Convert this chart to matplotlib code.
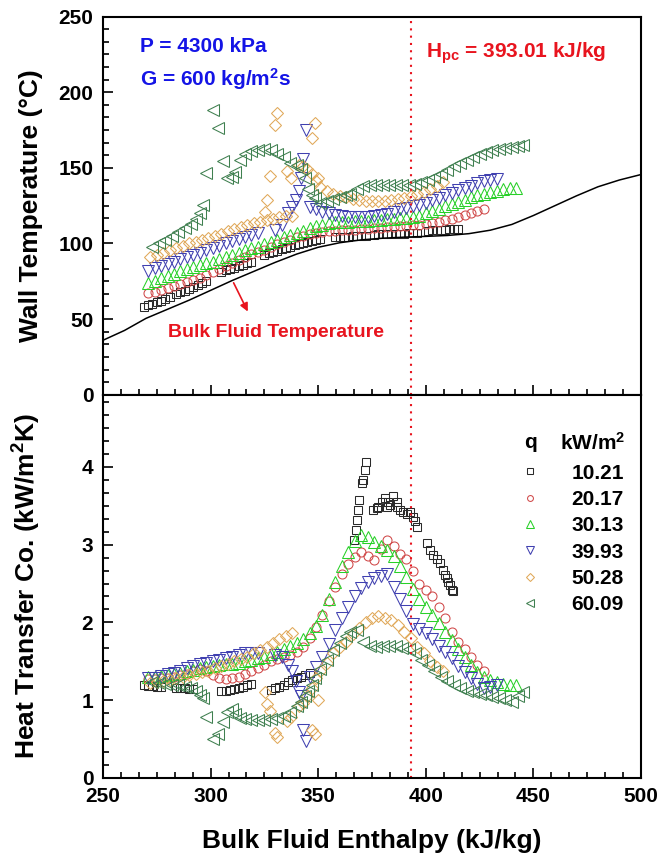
import matplotlib
matplotlib.use("Agg")
import matplotlib.pyplot as plt
from matplotlib.ticker import MultipleLocator, AutoMinorLocator

# ---------------------------------------------------------------------------
# Measured data, P = 4300 kPa, G = 600 kg/m2s
# ---------------------------------------------------------------------------
# q = 10.21 kW/m2 (wall temperature and HTC were logged on separate passes)
enth_1021_tw = [
    269, 271, 273, 275, 277, 279, 281,
    284, 286, 288, 290, 292, 294, 296, 298,
    305, 307, 309, 311, 313, 315, 317, 319,
    325, 327, 329, 331, 333, 335, 337, 339, 341, 343, 345, 347, 349, 351,
    358, 360, 362, 364, 366, 368, 370, 372,
    376, 378, 380, 382, 384, 386, 388, 390, 392, 394, 396,
    401, 403, 405, 407, 409, 411, 413, 415]
tw_1021 = [
    58.3, 59.3, 60.3, 61.3, 62.3, 63.3, 64.3,
    66.5, 67.6, 68.8, 70.0, 71.3, 72.6, 74.0, 75.5,
    81.3, 82.2, 83.1, 84.0, 85.0, 86.0, 87.0, 88.0,
    92.6, 93.5, 94.4, 95.3, 96.2, 97.0, 97.9, 98.8, 99.6, 100.4, 101.1, 101.8, 102.4, 103.0,
    104.3, 104.4, 104.5, 104.6, 104.7, 104.8, 104.9, 105.0,
    105.8, 106.0, 106.1, 106.2, 106.3, 106.4, 106.5, 106.6, 106.7, 106.8, 107.0,
    108.4, 108.6, 108.8, 109.0, 109.2, 109.4, 109.6, 109.9]
enth_1021_htc = [
    269, 271, 273, 275, 277,
    284, 286, 288, 290, 292,
    305, 307, 309, 311, 313, 315, 317, 319,
    328, 330, 332, 334, 336, 338, 340, 342, 344, 346,
    366.6, 367.6, 368.2, 368.7, 369.1, 370.2, 371.0, 371.8, 372.2,
    375.6, 377.2, 378.0, 379.5, 381.1, 381.8, 382.6, 383.4, 384.9,
    386.5, 386.5, 388.0, 389.6, 391.1, 392.7, 394.2, 395.0, 395.8,
    400.4, 402.0, 403.5, 405.1, 406.6, 408.2, 409.0, 409.7, 410.5, 411.3, 412.1, 412.8]
htc_1021 = [
    1.19, 1.18, 1.18, 1.17, 1.17,
    1.16, 1.15, 1.15, 1.14, 1.14,
    1.12, 1.12, 1.13, 1.14, 1.15, 1.17, 1.19, 1.21,
    1.13, 1.15, 1.17, 1.20, 1.23, 1.26, 1.28, 1.30, 1.32, 1.35,
    3.06, 3.19, 3.32, 3.45, 3.57, 3.79, 3.83, 3.96, 4.07,
    3.45, 3.47, 3.49, 3.55, 3.60, 3.49, 3.55, 3.51, 3.62,
    3.49, 3.55, 3.45, 3.42, 3.40, 3.42, 3.36, 3.30, 3.23,
    3.02, 2.93, 2.87, 2.82, 2.76, 2.67, 2.61, 2.57, 2.52, 2.48, 2.42, 2.40]

# q = 20.17 kW/m2
enth_2017 = [271, 274, 277, 280, 283, 286, 289, 292, 295, 298, 301, 304, 307,
             310, 313, 316, 319, 322, 325, 328, 331, 334, 337, 340, 343, 346,
             349, 352, 355, 358, 361, 364, 367, 370, 373, 376, 379, 382, 385,
             388, 391, 394, 397, 400, 403, 406, 409, 412, 415, 418, 421, 424, 427]
tw_2017 = [67, 68, 69, 70.5, 72, 73, 74.5, 76, 77.5, 79, 81, 83, 85, 87, 89,
           91, 93, 94.5, 96, 98, 99.5, 101, 102.5, 104, 105, 106, 107, 107.5,
           108, 108.3, 108.6, 108.8, 109, 109.3, 109.6, 110, 110.3, 110.6, 111,
           111.3, 111.6, 112, 112.5, 113, 113.7, 114.5, 115.3, 116.5, 117.7,
           119, 120.3, 121.7, 123]
htc_2017 = [1.27, 1.27, 1.28, 1.28, 1.30, 1.32, 1.34, 1.38, 1.40, 1.38, 1.32,
            1.28, 1.27, 1.28, 1.30, 1.33, 1.37, 1.41, 1.45, 1.50, 1.53, 1.56,
            1.58, 1.62, 1.68, 1.80, 1.94, 2.10, 2.28, 2.46, 2.62, 2.75, 2.84,
            2.90, 2.86, 2.80, 2.95, 3.06, 2.98, 2.88, 2.82, 2.66, 2.50, 2.42,
            2.34, 2.20, 2.05, 1.88, 1.75, 1.66, 1.55, 1.45, 1.38]

# q = 30.13 kW/m2
enth_3013 = [271, 274, 277, 280, 283, 286, 289, 292, 295, 298, 301, 304, 307,
             310, 313, 316, 319, 322, 325, 328, 331, 334, 337, 340, 343, 346,
             349, 352, 355, 358, 361, 364, 367, 370, 373, 376, 379, 382, 385,
             388, 391, 394, 397, 400, 403, 406, 409, 412, 415, 418, 421, 424,
             427, 430, 433, 436, 439, 442]
tw_3013 = [74, 75.5, 77, 78.5, 80, 81.5, 83, 84.5, 85.5, 87, 88, 89.5, 91,
           92.5, 94, 95.5, 97, 98, 99.5, 101, 102.5, 104, 105.5, 107, 108.5,
           110, 111.5, 112.5, 113.5, 114, 114.3, 114.5, 114.8, 115, 115.2,
           115.4, 115.6, 115.9, 116.2, 116.6, 117, 117.5, 118.5, 120, 121.5,
           123, 124.5, 126, 127.5, 129, 130.5, 132, 133, 134, 135, 135.8,
           136.5, 137]
htc_3013 = [1.30, 1.30, 1.31, 1.32, 1.33, 1.35, 1.37, 1.39, 1.41, 1.43, 1.44,
            1.45, 1.46, 1.47, 1.48, 1.50, 1.52, 1.54, 1.56, 1.59, 1.62, 1.66,
            1.70, 1.74, 1.79, 1.86, 1.95, 2.10, 2.30, 2.52, 2.72, 2.90, 3.05,
            3.13, 3.10, 3.04, 2.98, 2.93, 2.86, 2.72, 2.58, 2.43, 2.30, 2.20,
            2.10, 1.99, 1.88, 1.77, 1.66, 1.55, 1.45, 1.36, 1.30, 1.26, 1.23,
            1.21, 1.20, 1.20]

# q = 39.93 kW/m2
enth_3993 = [271, 274, 277, 280, 283, 286, 289, 292, 295, 298, 301, 304, 307,
             310, 313, 316, 319, 322,
             330, 333, 336, 338, 339.5, 341, 342, 343, 344.5,
             346, 349, 352, 355, 358, 361, 364, 367, 370, 373, 376, 379, 382,
             385, 388, 391, 394, 397, 400, 403, 406, 409, 412, 415, 418, 421,
             424, 427, 430, 433]
tw_3993 = [82, 83.5, 85, 86.5, 88, 89.5, 91, 92.5, 94, 95.5, 97, 98.5, 100,
           101.5, 103, 104.5, 105.8, 106.8,
           109, 112, 120, 124, 129, 135, 143, 156, 175,
           124, 122.5, 121, 120, 119, 118.3, 117.8, 117.6, 117.5, 117.6, 118,
           118.8, 119.8, 121, 122.5, 123.6, 124.6, 125.6, 127, 128.5, 130,
           131.8, 133.5, 135.2, 136.8, 138.3, 139.8, 141, 142, 142.5]
htc_3993 = [1.28, 1.29, 1.31, 1.33, 1.35, 1.38, 1.41, 1.44, 1.46, 1.48, 1.50,
            1.52, 1.54, 1.56, 1.58, 1.60, 1.61, 1.60,
            1.58, 1.55, 1.45, 1.38, 1.25, 1.10, 1.05, 0.62, 0.47,
            1.30, 1.42, 1.56, 1.72, 1.90, 2.05, 2.20, 2.34, 2.44, 2.52, 2.57,
            2.60, 2.62, 2.45, 2.30, 2.15, 1.98, 1.92, 1.86, 1.78, 1.70, 1.62,
            1.54, 1.44, 1.36, 1.28, 1.21, 1.16, 1.17, 1.20]

# q = 50.28 kW/m2
enth_5028 = [272, 275, 278, 281, 284, 287, 290, 293, 296, 299, 302, 305, 308,
             311, 314, 317, 320, 323, 326, 329, 332, 335, 338,
             325.5, 326, 327.5, 330, 331, 335.5, 337.5, 347, 348.5, 350,
             341, 343, 345, 347, 349, 351, 354, 357, 360, 363, 366, 369, 372,
             375, 378, 381, 384, 387, 390, 393, 396, 399, 402, 405, 408]
tw_5028 = [91, 92.5, 94, 95.5, 97, 98.5, 100, 101, 102.3, 103.5, 105, 106.5,
           108, 109.5, 111, 112.3, 113.5, 114.5, 115.5, 116.5, 117.3, 118, 118.5,
           120.5, 129, 144.5, 178.5, 186, 148, 143, 169.5, 179.5, 143,
           152, 151, 149.5, 146, 141, 137.5, 135, 133, 131.5, 130.5, 129.5,
           128.8, 128.3, 128, 128, 128.3, 128.8, 129.5, 130.3, 131.2, 132.5,
           134, 136, 138.3, 140.5]
htc_5028 = [1.22, 1.23, 1.24, 1.26, 1.28, 1.30, 1.32, 1.34, 1.36, 1.38, 1.41,
            1.44, 1.47, 1.50, 1.53, 1.56, 1.60, 1.64, 1.68, 1.73, 1.78, 1.83, 1.86,
            1.10, 0.95, 0.86, 0.57, 0.52, 0.73, 0.78, 0.62, 0.56, 1.00,
            0.92, 0.96, 1.05, 1.15, 1.28, 1.38, 1.48, 1.60, 1.68, 1.75, 1.85,
            1.93, 2.00, 2.05, 2.08, 2.06, 2.03, 1.97, 1.88, 1.80, 1.68, 1.60,
            1.50, 1.43, 1.38]

# q = 60.09 kW/m2
enth_6009 = [273, 276, 279, 282, 285, 288, 291, 293, 295, 296.5, 298, 301,
             303.5, 306, 307.5, 310, 311.5, 313.5, 316, 319, 322, 325, 328,
             331, 334, 337, 340, 342, 344, 345.5, 347, 348.5,
             351, 354, 357, 360, 363, 365, 368, 371, 374, 377, 380, 383, 386,
             389, 392, 395, 398, 401, 404, 407, 410, 413, 416, 419, 422, 425,
             428, 431, 434, 437, 440, 443, 445]
tw_6009 = [98, 100, 102.5, 105, 107.5, 110, 113, 116, 120, 125.5, 146.5, 188,
           176.5, 154.5, 143.5, 144, 147.5, 155, 159.5, 161, 162, 162.5, 162,
           159, 157, 153, 152, 149, 143.5, 136, 132, 130,
           126.5, 128, 129.5, 131, 132, 133, 136, 138, 138.7, 138.8, 138.8,
           138.8, 138.8, 138.8, 139, 139.5, 140.5, 142, 144, 146, 148.5, 151,
           153.5, 155.5, 157.5, 159, 160.3, 161.5, 162.5, 163.3, 164, 164.5, 165]
htc_6009 = [1.23, 1.22, 1.21, 1.20, 1.19, 1.17, 1.15, 1.12, 1.07, 1.02, 0.78,
            0.50, 0.56, 0.72, 0.85, 0.88, 0.82, 0.77, 0.75, 0.74, 0.74, 0.74,
            0.75, 0.77, 0.80, 0.85, 0.92, 0.98, 1.05, 1.12, 1.20, 1.28,
            1.40, 1.52, 1.64, 1.74, 1.82, 1.88, 1.90, 1.75, 1.70, 1.68, 1.69,
            1.70, 1.69, 1.67, 1.66, 1.60, 1.52, 1.45, 1.37, 1.30, 1.24, 1.19,
            1.15, 1.12, 1.10, 1.08, 1.06, 1.04, 1.02, 1.00, 0.98, 1.05, 1.10]

# bulk fluid temperature along the test section
enth_bulk = [250, 260, 270, 280, 290, 300, 310, 320, 330, 340, 350, 360, 370,
             380, 390, 400, 410, 420, 430, 440, 450, 460, 470, 480, 490, 500]
t_bulk = [36, 42.5, 50.5, 56.5, 62.5, 69, 75.5, 81.5, 87.5, 93, 97.5, 100.5,
          102.4, 103.5, 104.2, 104.7, 105.3, 106.5, 108.8, 112.6, 118.5, 125,
          131.5, 137.5, 142, 145.6]

H_PC = 393.01
q_labels = ["10.21", "20.17", "30.13", "39.93", "50.28", "60.09"]

# ---------------------------------------------------------------------------
# Style
# ---------------------------------------------------------------------------
RED = "#e8141e"
BLUE = "#1414e6"

plt.rcParams.update({
    "font.family": ["Liberation Sans", "DejaVu Sans"],
    "font.weight": "bold",
    "mathtext.fontset": "custom",
    "mathtext.rm": "Liberation Sans:bold",
    "mathtext.bf": "Liberation Sans:bold",
    "mathtext.it": "Liberation Sans:bold",
    "axes.linewidth": 1.5,
})

series = [
    (enth_1021_tw, tw_1021, enth_1021_htc, htc_1021, "s", "#2a2a2a", 6.0),
    (enth_2017, tw_2017, enth_2017, htc_2017, "o", "#d04848", 6.5),
    (enth_3013, tw_3013, enth_3013, htc_3013, "^", "#28d028", 8.0),
    (enth_3993, tw_3993, enth_3993, htc_3993, "v", "#4040b0", 8.0),
    (enth_5028, tw_5028, enth_5028, htc_5028, "D", "#e0a858", 5.8),
    (enth_6009, tw_6009, enth_6009, htc_6009, "<", "#3f8050", 8.0),
]

fig = plt.figure(figsize=(6.7, 8.59), dpi=100)
ax_t = fig.add_axes([0.1537, 0.5405, 0.803, 0.4401])
ax_h = fig.add_axes([0.1537, 0.0946, 0.803, 0.4459])

handles = []
for (h_tw, tw, h_htc, htc, mk, col, ms), lab in zip(series, q_labels):
    ax_t.plot(h_tw, tw, ls="none", marker=mk, ms=ms, mfc="none", mec=col, mew=0.75)
    ln, = ax_h.plot(h_htc, htc, ls="none", marker=mk, ms=ms, mfc="none",
                    mec=col, mew=0.75, label=lab)
    handles.append(ln)

ax_t.plot(enth_bulk, t_bulk, color="black", lw=1.1)

for ax in (ax_t, ax_h):
    ax.axvline(H_PC, color=RED, ls=(0, (1, 2.5)), lw=1.5)
    ax.set_xlim(250, 500)
    ax.xaxis.set_major_locator(MultipleLocator(50))
    ax.xaxis.set_minor_locator(AutoMinorLocator(6))
    ax.yaxis.set_minor_locator(AutoMinorLocator(6))
    ax.tick_params(which="both", direction="in", top=False, right=False,
                   width=1.2, labelsize=15)
    ax.tick_params(which="major", length=7, pad=7)
    ax.tick_params(which="minor", length=4)

ax_t.set_ylim(0, 250)
ax_t.yaxis.set_major_locator(MultipleLocator(50))
ax_t.tick_params(labelbottom=False)
ax_h.set_ylim(0, 4.93)
ax_h.yaxis.set_major_locator(MultipleLocator(1))

ax_t.set_ylabel("Wall Temperature (°C)", fontsize=19, fontweight="bold")
ax_h.set_ylabel("Heat Transfer Co. (kW/m$^2$K)", fontsize=19, fontweight="bold")
ax_h.set_xlabel("Bulk Fluid Enthalpy (kJ/kg)", fontsize=19, fontweight="bold")
ax_t.yaxis.set_label_coords(-0.112, 0.5)
ax_h.yaxis.set_label_coords(-0.112, 0.5)
ax_h.xaxis.set_label_coords(0.5, -0.135)

# annotations on the wall temperature panel
ax_t.text(267, 230, "P = 4300 kPa", color=BLUE, fontsize=15, va="center")
ax_t.text(267, 209, "G = 600 kg/m$^2$s", color=BLUE, fontsize=15, va="center")
ax_t.text(400, 226, "H$_{pc}$ = 393.01 kJ/kg", color=RED, fontsize=15, va="center")
ax_t.text(280, 41, "Bulk Fluid Temperature", color=RED, fontsize=14, va="center")
ax_t.annotate("", xy=(317.3, 55), xytext=(310.7, 74),
              arrowprops=dict(arrowstyle="-|>", color=RED, lw=1.2,
                              mutation_scale=12, shrinkA=0, shrinkB=0))

# heat flux key
ax_h.legend(handles=handles, loc="upper left", bbox_to_anchor=(0.774, 0.82),
            frameon=False, fontsize=15, handlelength=1.0, handletextpad=1.5,
            labelspacing=0.35, borderpad=0, borderaxespad=0, markerscale=0.65,
            numpoints=1)
ax_h.text(0.794, 0.874, "q", transform=ax_h.transAxes, ha="center",
          va="center", fontsize=15)
ax_h.text(0.91, 0.874, "kW/m$^2$", transform=ax_h.transAxes, ha="center",
          va="center", fontsize=15)

fig.savefig("out.png", dpi=100)
